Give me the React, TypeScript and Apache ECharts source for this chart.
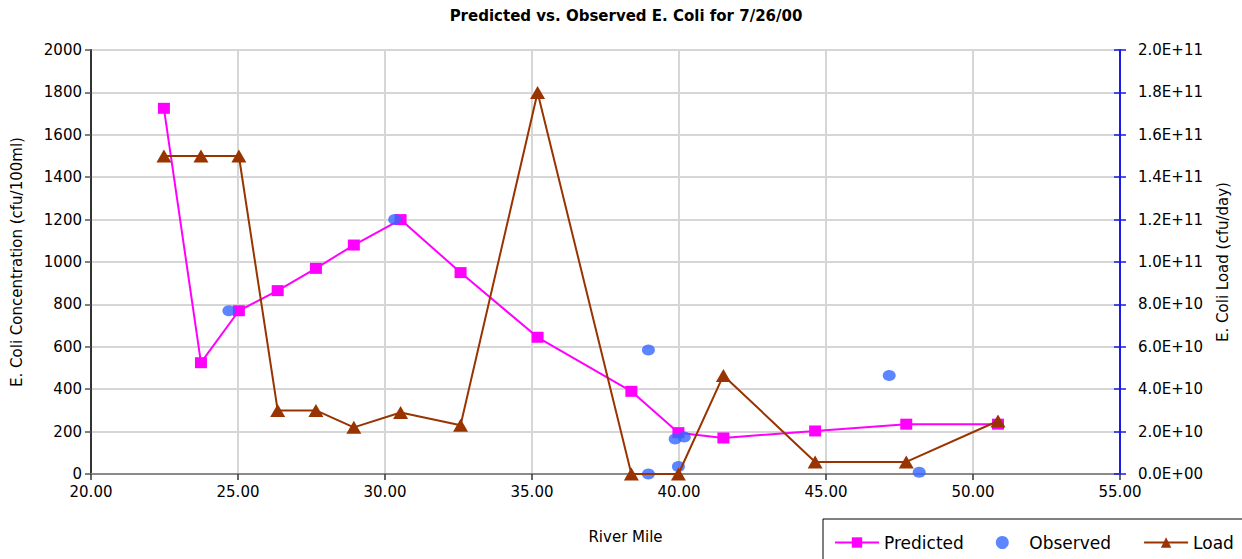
import React, { useEffect, useRef } from "react";
import * as echarts from "echarts";

// River-mile positions shared by the Predicted and Load series
const miles = [22.48, 23.74, 25.03, 26.35, 27.65, 28.94, 30.53, 32.57, 35.19, 38.38, 39.98, 41.51, 44.63, 47.73, 50.85];
const predicted = [1725, 525, 770, 865, 970, 1080, 1200, 950, 645, 390, 195, 170, 203, 235, 235];
const load = [1.5e11, 1.5e11, 1.5e11, 3.0e10, 3.0e10, 2.2e10, 2.9e10, 2.3e10, 1.8e11, 0, 0, 4.65e10, 5.7e9, 5.7e9, 2.5e10];

const observedMiles = [24.69, 30.33, 38.96, 38.96, 39.87, 40.18, 39.98, 47.15, 48.17];
const observed = [770, 1200, 585, 0, 165, 175, 35, 465, 8];

const FONT = "DejaVu Sans";

function sci(v: number): string {
  const [m, e] = v.toExponential(1).split("e");
  const sign = e[0] === "-" ? "-" : "+";
  const digits = e.replace(/[+-]/, "").padStart(2, "0");
  return m + "E" + sign + digits;
}

export default function App() {
  const ref = useRef<HTMLDivElement>(null);
  useEffect(() => {
    document.body.style.margin = "0";
    if (!ref.current) return;
    const chart = echarts.init(ref.current, null, { renderer: "svg" });
    const pred = miles.map((m, i) => [m, predicted[i]]);
    const ld = miles.map((m, i) => [m, load[i]]);
    const obs = observedMiles.map((m, i) => [m, observed[i]]);
    chart.setOption({
      animation: false,
      backgroundColor: "#ffffff",
      textStyle: { fontFamily: FONT },
      title: {
        text: "Predicted vs. Observed E. Coli for 7/26/00",
        left: 621,
        top: 3,
        textAlign: "center",
        textStyle: { fontFamily: FONT, fontSize: 15, fontWeight: "bold", color: "#000" },
      },
      grid: { left: 91, right: 122, top: 50, bottom: 85, containLabel: false },
      legend: {
        left: 823,
        top: 519,
        width: 480,
        orient: "horizontal",
        backgroundColor: "#ffffff",
        borderColor: "#000000",
        borderWidth: 1,
        borderRadius: 0,
        padding: [15, 40, 20, 11],
        itemWidth: 44,
        itemHeight: 13,
        itemGap: 32,
        textStyle: { fontFamily: FONT, fontSize: 17, color: "#000" },
        data: ["Predicted", "Observed", "Load"],
      },
      xAxis: [
        {
          type: "value",
          min: 20,
          max: 55,
          interval: 5,
          name: "River Mile",
          nameLocation: "middle",
          nameGap: 55,
          nameTextStyle: { fontFamily: FONT, fontSize: 15, color: "#000", padding: [0, 0, 0, 40] },
          axisLine: { show: true, onZero: false, lineStyle: { color: "#333", width: 2 } },
          axisTick: { show: true, inside: false, length: 6, lineStyle: { color: "#333", width: 1.5 } },
          axisLabel: { fontFamily: FONT, fontSize: 15, color: "#000", margin: 10, formatter: (v: number) => v.toFixed(2) },
          splitLine: { show: true, lineStyle: { color: "#d6d6d6", width: 2 } },
        },
        {
          type: "value",
          position: "top",
          min: 20,
          max: 55,
          axisLine: { show: true, lineStyle: { color: "#8a8a8a", width: 2 } },
          axisTick: { show: false },
          axisLabel: { show: false },
          splitLine: { show: false },
        },
      ],
      yAxis: [
        {
          type: "value",
          min: 0,
          max: 2000,
          interval: 200,
          name: "E. Coli Concentration (cfu/100ml)",
          nameLocation: "middle",
          nameGap: 67,
          nameRotate: 90,
          nameTextStyle: { fontFamily: FONT, fontSize: 15, color: "#000" },
          axisLine: { show: true, lineStyle: { color: "#333", width: 2 } },
          axisTick: { show: true, inside: false, length: 6, lineStyle: { color: "#555", width: 1.5 } },
          axisLabel: { fontFamily: FONT, fontSize: 15, color: "#000", margin: 9, formatter: (v: number) => String(v) },
          splitLine: { show: true, lineStyle: { color: "#c8c8c8", width: 1.5 } },
        },
        {
          type: "value",
          position: "right",
          min: 0,
          max: 2e11,
          interval: 2e10,
          name: "E. Coli Load (cfu/day)",
          nameLocation: "middle",
          nameGap: 95,
          nameRotate: 90,
          nameTextStyle: { fontFamily: FONT, fontSize: 15, color: "#000" },
          axisLine: { show: true, lineStyle: { color: "#1a1ae6", width: 2 } },
          axisTick: { show: true, inside: false, length: 6, lineStyle: { color: "#1a1ae6", width: 1.5 } },
          axisLabel: { fontFamily: FONT, fontSize: 15, color: "#000", margin: 18, formatter: sci },
          splitLine: { show: false },
        },
        {
          type: "value",
          position: "right",
          min: 0,
          max: 2e11,
          interval: 2e10,
          axisLine: { show: false },
          axisTick: { show: true, inside: true, length: 6, lineStyle: { color: "#1a1ae6", width: 1.5 } },
          axisLabel: { show: false },
          splitLine: { show: false },
        },
      ],
      series: [
        {
          name: "Predicted",
          type: "line",
          xAxisIndex: 0,
          yAxisIndex: 0,
          data: pred,
          color: "#ff00ff",
          symbol: "rect",
          symbolSize: [12, 11],
          lineStyle: { color: "#ff00ff", width: 2 },
          itemStyle: { color: "#ff00ff" },
          z: 2,
        },
        {
          name: "Observed",
          type: "scatter",
          xAxisIndex: 0,
          yAxisIndex: 0,
          data: obs,
          color: "#3366ff",
          symbol: "circle",
          symbolSize: [13, 11],
          itemStyle: { color: "#3366ff" },
          z: 3,
        },
        {
          name: "Load",
          type: "line",
          xAxisIndex: 0,
          yAxisIndex: 1,
          data: ld,
          color: "#993300",
          symbol: "triangle",
          symbolSize: [15, 13],
          lineStyle: { color: "#993300", width: 2 },
          itemStyle: { color: "#993300" },
          z: 4,
        },
      ],
    });
    return () => chart.dispose();
  }, []);
  return <div ref={ref} style={{ width: 1242, height: 559 }} />;
}
